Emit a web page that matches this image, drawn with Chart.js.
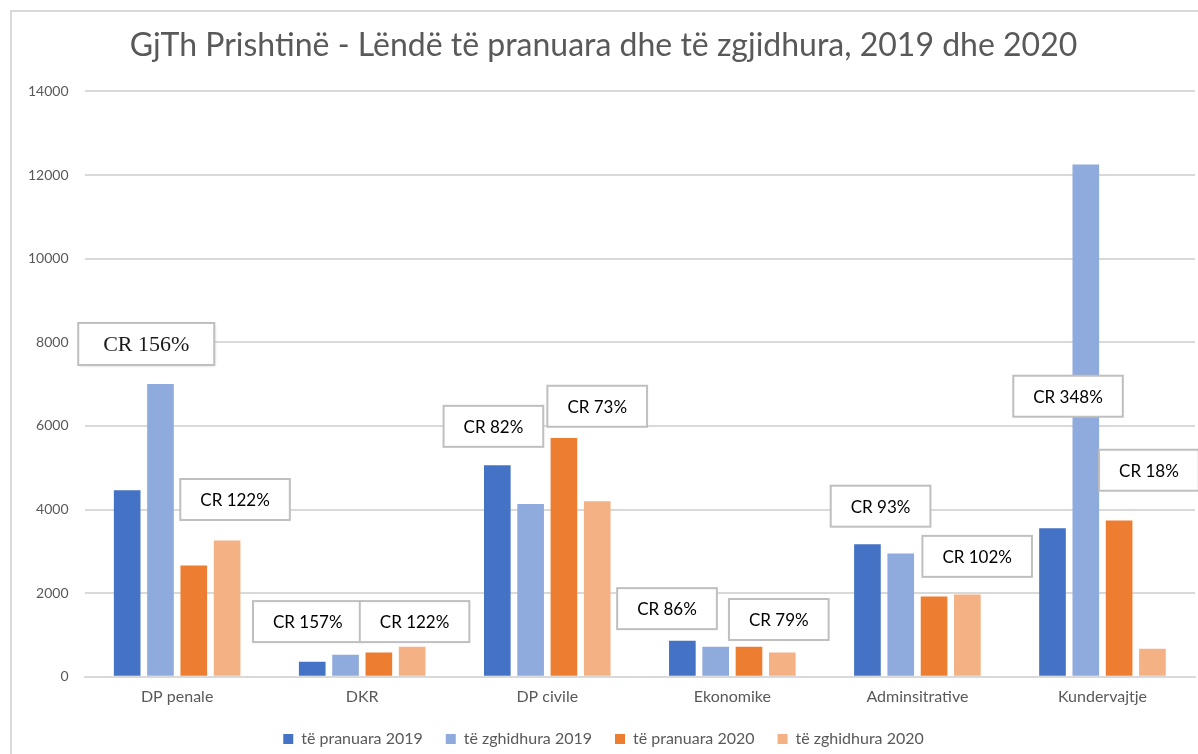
<!DOCTYPE html>
<html>
<head>
<meta charset="utf-8">
<script src="https://cdn.jsdelivr.net/npm/chart.js@4"></script>
<style>
  html, body { margin: 0; padding: 0; background: #fff; overflow: hidden; }
  #frame {
    position: absolute; left: 10px; top: 10px;
    width: 1200px; height: 780px;
    border-left: 2px solid #d9d9d9; border-top: 2px solid #d9d9d9;
    box-sizing: border-box;
  }
  #chartBox { position: absolute; left: 0; top: 0; width: 1198px; height: 745px; }
</style>
</head>
<body>
<div id="frame"><div id="chartBox"><canvas id="casesChart"></canvas></div></div>
<script>
// kategoritë e lëndëve
const categories = ['DP penale', 'DKR', 'DP civile', 'Ekonomike', 'Adminsitrative', 'Kundervajtje'];

// vlerat e lexuara nga grafiku
const pranuara2019 = [4460, 360, 5060, 860, 3170, 3550];
const zgjidhura2019 = [7000, 530, 4130, 720, 2950, 12250];
const pranuara2020 = [2660, 580, 5710, 720, 1920, 3740];
const zgjidhura2020 = [3260, 720, 4200, 580, 1970, 670];

const seriesNames = ['të pranuara 2019', 'të zghidhura 2019', 'të pranuara 2020', 'të zghidhura 2020'];
const seriesColors = ['#4472c4', '#8faadc', '#ed7d31', '#f4b183'];

const yTicks = [0, 2000, 4000, 6000, 8000, 10000, 12000, 14000];

// etiketat CR (x = indeksi i kategorisë, y = vlera)
const crLabels = [
    { text: 'CR 156%', x: -0.167, y: 7960, big: true },
    { text: 'CR 122%', x: 0.313, y: 4240 },
    { text: 'CR 157%', x: 0.706, y: 1320 },
    { text: 'CR 122%', x: 1.283, y: 1320 },
    { text: 'CR 82%', x: 1.709, y: 5990 },
    { text: 'CR 73%', x: 2.270, y: 6470 },
    { text: 'CR 86%', x: 2.647, y: 1630 },
    { text: 'CR 79%', x: 3.251, y: 1370 },
    { text: 'CR 93%', x: 3.801, y: 4080 },
    { text: 'CR 102%', x: 4.323, y: 2880 },
    { text: 'CR 348%', x: 4.814, y: 6710 },
    { text: 'CR 18%', x: 5.251, y: 4940 }
];

const FONT = 'Lato, Calibri, "Open Sans", sans-serif';
const GREY_TEXT = '#595959';

const crPlugin = {
    id: 'crLabels',
    afterDatasetsDraw(chart) {
        const ctx = chart.ctx;
        const xs = chart.scales.x;
        const ys = chart.scales.y;
        crLabels.forEach(lbl => {
            const cx = xs.getPixelForValue(lbl.x);
            const cy = ys.getPixelForValue(lbl.y);
            ctx.save();
            ctx.font = lbl.big ? '22px "Liberation Serif", "Times New Roman", serif' : '17px ' + FONT;
            const tw = ctx.measureText(lbl.text).width;
            const w = lbl.big ? 136 : tw + 40;
            const h = lbl.big ? 42 : 41;
            const x0 = cx - w / 2, y0 = cy - h / 2;
            if (lbl.big) {
                ctx.shadowColor = 'rgba(0,0,0,0.25)';
                ctx.shadowBlur = 3;
                ctx.shadowOffsetX = 1;
                ctx.shadowOffsetY = 1;
            }
            ctx.fillStyle = '#fff';
            ctx.fillRect(x0, y0, w, h);
            ctx.shadowColor = 'transparent';
            ctx.strokeStyle = '#bfbfbf';
            ctx.lineWidth = 2;
            ctx.strokeRect(x0, y0, w, h);
            ctx.fillStyle = lbl.big ? '#1a1a1a' : '#000';
            ctx.textAlign = 'center';
            ctx.textBaseline = 'middle';
            ctx.fillText(lbl.text, cx, cy + 1);
            ctx.restore();
        });
    }
};

new Chart(document.getElementById('casesChart'), {
    type: 'bar',
    data: {
        labels: categories,
        datasets: [pranuara2019, zgjidhura2019, pranuara2020, zgjidhura2020].map((vals, i) => ({
            label: seriesNames[i],
            data: vals,
            backgroundColor: seriesColors[i],
            borderWidth: 0,
            barPercentage: 0.8,
            categoryPercentage: 0.72
        }))
    },
    options: {
        responsive: true,
        maintainAspectRatio: false,
        animation: false,
        layout: { padding: { left: 0, right: 15, top: 0, bottom: 0 } },
        scales: {
            x: {
                grid: { display: false },
                border: { color: '#d9d9d9', width: 2 },
                ticks: { color: GREY_TEXT, font: { family: FONT, size: 16 }, padding: 2 }
            },
            y: {
                min: 0,
                max: 14000,
                afterBuildTicks: axis => { axis.ticks = yTicks.map(v => ({ value: v })); },
                grid: { color: '#d9d9d9', lineWidth: 2, drawTicks: false },
                border: { display: false },
                ticks: {
                    color: GREY_TEXT,
                    font: { family: FONT, size: 14 },
                    padding: 16,
                    callback: v => String(v)
                }
            }
        },
        plugins: {
            title: {
                display: true,
                text: 'GjTh Prishtinë - Lëndë të pranuara dhe të zgjidhura, 2019 dhe 2020',
                color: GREY_TEXT,
                font: { family: FONT, size: 32, weight: 'normal' },
                padding: { top: 14, bottom: 27 }
            },
            legend: {
                position: 'bottom',
                labels: {
                    color: GREY_TEXT,
                    font: { family: FONT, size: 16 },
                    boxWidth: 10,
                    boxHeight: 10,
                    padding: 23
                }
            },
            tooltip: { enabled: false }
        }
    },
    plugins: [crPlugin]
});
</script>
</body>
</html>
